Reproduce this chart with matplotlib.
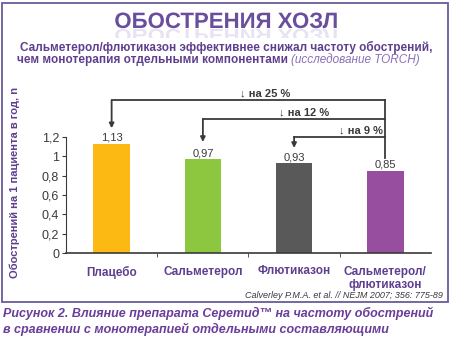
import matplotlib.pyplot as plt
from matplotlib.patches import Rectangle, PathPatch
from matplotlib.textpath import TextPath
from matplotlib.font_manager import FontProperties
from matplotlib.transforms import Affine2D, IdentityTransform

# data
categories = ['Плацебо', 'Сальметерол', 'Флютиказон', 'Сальметерол/\nфлютиказон']
values = [1.13, 0.97, 0.93, 0.85]
value_labels = ['1,13', '0,97', '0,93', '0,85']
bar_colors = ['#fdb913', '#8dc63f', '#595959', '#974e9f']
yticks = [0, 0.2, 0.4, 0.6, 0.8, 1.0, 1.2]
ytick_labels = ['0', '0,2', '0,4', '0,6', '0,8', '1', '1,2']
reductions = ['на 25 %', 'на 12 %', 'на 9 %']
bracket_from = [0, 1, 2]
bracket_levels = [1.58, 1.386, 1.2]

purple = '#5e3f8f'
dark = '#3a3a3a'
fam = ['Liberation Sans', 'DejaVu Sans']
plt.rcParams['font.family'] = fam

W, H = 452, 348
fig = plt.figure(figsize=(W / 100, H / 100), dpi=100)

def fx(px):
    return px / W

def fy(py):
    return 1 - py / H

# frame around the chart
fig.patches.append(Rectangle((fx(2.5), fy(302)), fx(446), 299 / H, transform=fig.transFigure,
                             fill=False, edgecolor='#6c5a9a', linewidth=1.3))

# axes placed by pixels: x 66..431, y=0 at 253, 96.7 px per unit
ymax = 1.65
ax = fig.add_axes([fx(66), fy(253), fx(365), ymax * 96.7 / H])
x = list(range(len(categories)))
ax.bar(x, values, width=0.4, color=bar_colors)
for i, v in enumerate(values):
    ax.text(i, v + 0.01, value_labels[i], ha='center', va='bottom', fontsize=8, color=dark)

ax.set_xlim(-0.5, 3.5)
ax.set_ylim(0, ymax)
for s in ['top', 'right']:
    ax.spines[s].set_visible(False)
ax.spines['left'].set_bounds(0, 1.2)
ax.spines['left'].set_color(dark)
ax.spines['bottom'].set_color(dark)
ax.spines['bottom'].set_linewidth(1.2)
ax.set_yticks(yticks)
ax.set_yticklabels(ytick_labels, fontsize=9, color=dark)
ax.tick_params(axis='y', length=3, color=dark, pad=2)
ax.set_xticks(x)
ax.set_xticklabels(categories, fontsize=8.5, fontweight='bold', color=purple, linespacing=1.15)
ax.tick_params(axis='x', length=0, pad=9)
ax.set_xticks([0.5, 1.5, 2.5], minor=True)
ax.tick_params(axis='x', which='minor', length=3, color=dark)

# comparison brackets
tip_gap = [0.16, 0.178, 0.156]
label_x = [1.41, 1.83, 2.49]
ax.plot([3, 3], [0.98, bracket_levels[0]], color=dark, lw=1.3, clip_on=False)
for k, i in enumerate(bracket_from):
    lvl = bracket_levels[k]
    ax.plot([i, 3], [lvl, lvl], color=dark, lw=1.3, clip_on=False)
    ax.annotate('', xy=(i, values[i] + tip_gap[k]), xytext=(i, lvl),
                arrowprops=dict(arrowstyle='-|>', color=dark, lw=1.3,
                                mutation_scale=7, shrinkA=0, shrinkB=0))
    ax.text(label_x[k], lvl + 0.02, '↓ ' + reductions[k], ha='left', va='bottom',
            fontsize=8, fontweight='bold', color=dark)

# y label
fig.text(fx(15), fy(182), 'Обострений на 1 пациента в год, n', rotation=90,
         ha='center', va='center', fontsize=8, fontweight='bold', color=purple)

# big title with a faint mirror reflection
tp = TextPath((0, 0), 'ОБОСТРЕНИЯ ХОЗЛ', size=16,
              prop=FontProperties(family='Liberation Sans', weight='bold'))
ext = tp.get_extents()
sc = 100 / 72
base_y = H - 28
x0 = W / 2 - (ext.x0 + ext.width / 2) * sc
title_tr = Affine2D().scale(sc).translate(x0, base_y) + IdentityTransform()
fig.patches.append(PathPatch(tp, transform=title_tr, facecolor='#6a4e9e', edgecolor='none'))
mirror_tr = Affine2D().scale(sc, -sc * 0.8).translate(x0, base_y - 1) + IdentityTransform()
refl = PathPatch(tp, transform=mirror_tr, facecolor='#d6cde8', edgecolor='none', alpha=0.55)
fig.patches.append(refl)
clip = Rectangle((0, base_y - 10), W, 9, transform=IdentityTransform(), visible=False)
fig.patches.append(clip)
refl.set_clip_path(clip)

fig.text(0.5, fy(47), 'Сальметерол/флютиказон эффективнее снижал частоту обострений,',
         ha='center', va='center', fontsize=8.5, fontweight='bold', color=purple)
fig.text(fx(288), fy(60), 'чем монотерапия отдельными компонентами', ha='right', va='center',
         fontsize=8.5, fontweight='bold', color=purple)
fig.text(fx(291), fy(60), '(исследование TORCH)', ha='left', va='center',
         fontsize=8.5, style='italic', color='#8a6fb5')

# source and caption
fig.text(fx(443), fy(295), 'Calverley P.M.A. et al. // NEJM 2007; 356: 775-89', ha='right',
         va='center', fontsize=6.5, style='italic', color=dark)
fig.text(fx(3), fy(313), 'Рисунок 2. Влияние препарата Серетид™ на частоту обострений',
         ha='left', va='center', fontsize=9, style='italic', fontweight='bold', color='#6a3d9a')
fig.text(fx(3), fy(329), 'в сравнении с монотерапией отдельными составляющими',
         ha='left', va='center', fontsize=9, style='italic', fontweight='bold', color='#6a3d9a')

fig.savefig('out.png', dpi=100)
